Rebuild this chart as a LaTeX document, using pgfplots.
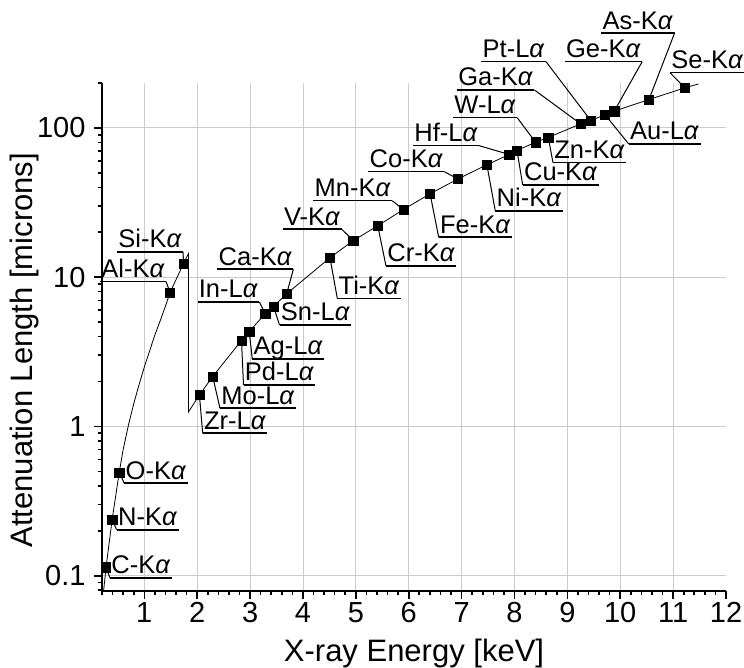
\documentclass[border=0pt]{standalone}
\usepackage{fontspec}
\setmainfont{Liberation Sans}
\usepackage{pgfplots}
\pgfplotsset{compat=1.18}
\usepackage{pgfplotstable}

\pgfplotstableread{
E y
0.277 0.114
0.392 0.238
0.525 0.490
1.487 7.90
1.740 12.30
2.042 1.625
2.293 2.16
2.838 3.77
2.984 4.33
3.287 5.69
3.444 6.37
3.692 7.74
4.511 13.5
4.952 17.6
5.415 22.1
5.899 28.4
6.404 36.2
6.930 45.5
7.478 56.6
7.899 66.4
8.048 70.6
8.398 80.2
8.639 86.3
9.251 106.4
9.442 112.1
9.713 122.5
9.886 129.4
10.543 155
11.222 185.6
}\markers

\pgfplotstableread{
E y
0.230 0.079
0.277 0.114
0.392 0.238
0.525 0.490
0.600 0.70
0.700 1.02
0.800 1.42
0.900 1.90
1.000 2.50
1.100 3.20
1.200 4.10
1.300 5.10
1.400 6.40
1.487 7.90
1.740 12.30
1.835 14.4
1.835 1.25
2.042 1.625
2.293 2.16
2.838 3.77
2.984 4.33
3.287 5.69
3.444 6.37
3.692 7.74
4.511 13.5
4.952 17.6
5.415 22.1
5.899 28.4
6.404 36.2
6.930 45.5
7.478 56.6
7.899 66.4
8.048 70.6
8.398 80.2
8.639 86.3
9.251 106.4
9.442 112.1
9.713 122.5
9.886 129.4
10.543 155
11.222 185.6
11.480 197
}\curve

\newcommand{\ka}{-K\textit{α}}
\newcommand{\la}{-L\textit{α}}
% #1 underline left x, #2 underline y (pixels), #3 text, #4 end (west/east), #5 target
\newcommand{\lab}[5]{%
  \node[lbl] (tmp) at (#1,#2) {#3};
  \draw[uline] (tmp.south west) -- (tmp.south east);
  \draw[leader] (tmp.south #4) -- (#5);
}

\begin{document}
\begin{tikzpicture}[x=1bp,y=1bp,
  lbl/.style={anchor=south west, font=\fontsize{25.5bp}{29bp}\selectfont, inner xsep=1.2bp, inner ysep=0pt, text depth=4bp},
  uline/.style={line width=1.6bp, black},
  leader/.style={line width=1bp, black}]
\useasboundingbox (-102,-77) rectangle (642,591);
\begin{axis}[
  scale only axis, width=624bp, height=508bp,
  xmin=0.2, xmax=12, ymode=log, ymin=0.079, ymax=200,
  axis x line*=bottom, axis y line*=left,
  axis line style={line width=1.8bp, -},
  every tick/.style={black, line width=1.6bp},
  tick align=outside,
  major tick length=8bp, minor tick length=4bp,
  xtick={1,2,3,4,5,6,7,8,9,10,11},
  xticklabels={1,2,3,4,5,6,7,8,9,10,11},
  extra x ticks={12}, extra x tick labels={12},
  extra tick style={grid=none},
  minor xtick={0.2,0.4,0.6,0.8,1.2,1.4,1.6,1.8,2.2,2.4,2.6,2.8,3.2,3.4,3.6,3.8,4.2,4.4,4.6,4.8,5.2,5.4,5.6,5.8,6.2,6.4,6.6,6.8,7.2,7.4,7.6,7.8,8.2,8.4,8.6,8.8,9.2,9.4,9.6,9.8,10.2,10.4,10.6,10.8,11.2,11.4,11.6,11.8},
  ytick={0.1,1,10,100}, yticklabels={0.1,1,10,100},
  minor ytick={0.08,0.09,0.2,0.3,0.4,0.5,0.6,0.7,0.8,0.9,2,3,4,5,6,7,8,9,20,30,40,50,60,70,80,90,200},
  grid=major, major grid style={line width=0.9bp, color=black!20},
  tick label style={font=\fontsize{29bp}{32bp}\selectfont},
  yticklabel style={xshift=-5bp},
  label style={font=\fontsize{31bp}{36bp}\selectfont},
  xlabel={X-ray Energy [keV]},
  ylabel={Attenuation Length [microns]},
  xlabel style={at={(axis description cs:0.5,-0.138)}, anchor=base},
  ylabel style={at={(axis description cs:-0.1106,0.474)}, anchor=base},
  clip=false,
]
\addplot[black, line width=0.8bp, no marks] table[x=E,y=y] {\curve};
\addplot[only marks, mark=square*, mark size=4.6bp, black] table[x=E,y=y] {\markers};
\coordinate (C) at (axis cs:0.277,0.114);
\coordinate (N) at (axis cs:0.392,0.238);
\coordinate (O) at (axis cs:0.525,0.490);
\coordinate (Al) at (axis cs:1.487,7.90);
\coordinate (Si) at (axis cs:1.740,12.30);
\coordinate (Zr) at (axis cs:2.042,1.625);
\coordinate (Mo) at (axis cs:2.293,2.16);
\coordinate (Pd) at (axis cs:2.838,3.77);
\coordinate (Ag) at (axis cs:2.984,4.33);
\coordinate (In) at (axis cs:3.287,5.69);
\coordinate (Sn) at (axis cs:3.444,6.37);
\coordinate (Ca) at (axis cs:3.692,7.74);
\coordinate (Ti) at (axis cs:4.511,13.5);
\coordinate (V) at (axis cs:4.952,17.6);
\coordinate (Cr) at (axis cs:5.415,22.1);
\coordinate (Mn) at (axis cs:5.899,28.4);
\coordinate (Fe) at (axis cs:6.404,36.2);
\coordinate (Co) at (axis cs:6.930,45.5);
\coordinate (Ni) at (axis cs:7.478,56.6);
\coordinate (Hf) at (axis cs:7.899,66.4);
\coordinate (Cu) at (axis cs:8.048,70.6);
\coordinate (W) at (axis cs:8.398,80.2);
\coordinate (Zn) at (axis cs:8.639,86.3);
\coordinate (Ga) at (axis cs:9.251,106.4);
\coordinate (Pt) at (axis cs:9.442,112.1);
\coordinate (Au) at (axis cs:9.713,122.5);
\coordinate (Ge) at (axis cs:9.886,129.4);
\coordinate (As) at (axis cs:10.543,155);
\coordinate (Se) at (axis cs:11.222,185.6);
\end{axis}
\begin{scope}[x=1bp,y=-1bp,shift={(-102bp,591bp)}]
\lab{110}{578}{C\ka}{west}{C}
\lab{116.7}{530}{N\ka}{west}{N}
\lab{124.3}{483.3}{O\ka}{west}{O}
\lab{100}{281.7}{Al\ka}{east}{Al}
\lab{117}{252}{Si\ka}{east}{Si}
\lab{202.7}{433.3}{Zr\la}{west}{Zr}
\lab{220}{408.3}{Mo\la}{west}{Mo}
\lab{243.5}{385}{Pd\la}{west}{Pd}
\lab{252.3}{359}{Ag\la}{west}{Ag}
\lab{197.5}{302}{In\la}{east}{In}
\lab{279.5}{325}{Sn\la}{west}{Sn}
\lab{217.3}{269.3}{Ca\ka}{east}{Ca}
\lab{337.3}{298.5}{Ti\ka}{west}{Ti}
\lab{282.7}{229.3}{V\ka}{east}{V}
\lab{386}{266}{Cr\ka}{west}{Cr}
\lab{313.3}{200.7}{Mn\ka}{east}{Mn}
\lab{438.7}{237.3}{Fe\ka}{west}{Fe}
\lab{368.3}{171.7}{Co\ka}{east}{Co}
\lab{495.3}{211}{Ni\ka}{west}{Ni}
\lab{413}{145.7}{Hf\la}{east}{Hf}
\lab{522.7}{185}{Cu\ka}{west}{Cu}
\lab{453}{117.7}{W\la}{east}{W}
\lab{553}{162.7}{Zn\ka}{west}{Zn}
\lab{457}{90}{Ga\ka}{east}{Ga}
\lab{481.3}{61.7}{Pt\la}{east}{Pt}
\lab{628.7}{144}{Au\la}{west}{Au}
\lab{564.7}{61.7}{Ge\ka}{east}{Ge}
\lab{601.3}{33.3}{As\ka}{east}{As}
\lab{670}{72.7}{Se\ka}{west}{Se}
\end{scope}
\end{tikzpicture}
\end{document}
